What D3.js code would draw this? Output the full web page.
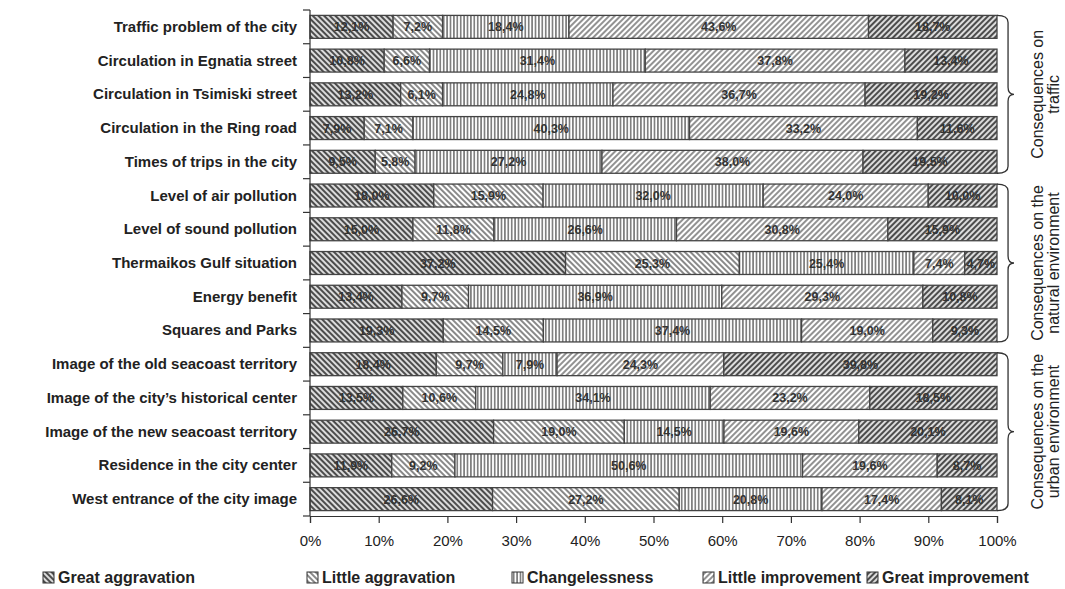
<!DOCTYPE html>
<html>
<head>
<meta charset="utf-8">
<script src="https://cdn.jsdelivr.net/npm/d3@7"></script>
<style>
  body { margin: 0; background: #fff; }
  svg { display: block; }
</style>
</head>
<body>
<svg id="chart" width="1065" height="589"></svg>
<script>
// categories, top to bottom
var categories = [
  'Traffic problem of the city',
  'Circulation in Egnatia street',
  'Circulation in Tsimiski street',
  'Circulation in the Ring road',
  'Times of trips in the city',
  'Level of air pollution',
  'Level of sound pollution',
  'Thermaikos Gulf situation',
  'Energy benefit',
  'Squares and Parks',
  'Image of the old seacoast territory',
  'Image of the city\u2019s historical center',
  'Image of the new seacoast territory',
  'Residence in the city center',
  'West entrance of the city image'
];

var seriesNames = ['Great aggravation', 'Little aggravation', 'Changelessness', 'Little improvement', 'Great improvement'];

var greatAggravation  = [12.1, 10.8, 13.2, 7.9, 9.5, 18.0, 15.0, 37.2, 13.4, 19.3, 18.4, 13.5, 26.7, 11.9, 26.6];
var littleAggravation = [7.2, 6.6, 6.1, 7.1, 5.8, 15.9, 11.8, 25.3, 9.7, 14.5, 9.7, 10.6, 19.0, 9.2, 27.2];
var changelessness    = [18.4, 31.4, 24.8, 40.3, 27.2, 32.0, 26.6, 25.4, 36.9, 37.4, 7.9, 34.1, 14.5, 50.6, 20.8];
var littleImprovement = [43.6, 37.8, 36.7, 33.2, 38.0, 24.0, 30.8, 7.4, 29.3, 19.0, 24.3, 23.2, 19.6, 19.6, 17.4];
var greatImprovement  = [18.7, 13.4, 19.2, 11.6, 19.5, 10.0, 15.9, 4.7, 10.8, 9.3, 39.8, 18.5, 20.1, 8.7, 8.1];

var groups = [
  { lines: ['Consequences on', 'traffic'], from: 0, to: 4 },
  { lines: ['Consequences on the', 'natural environment'], from: 5, to: 9 },
  { lines: ['Consequences on the', 'urban environment'], from: 10, to: 14 }
];

var xTicks = [0, 10, 20, 30, 40, 50, 60, 70, 80, 90, 100];

(function() {
  var plotLeft = 310, plotRight = 997, plotTop = 10, plotBottom = 516;

  var svg = d3.select('#chart');

  // hatch patterns, one per answer
  var defs = svg.append('defs');
  var patternSpecs = [
    { id: 'p0', angle: -45, size: 4, bg: '#dcdcdc', line: '#3c3c3c', w: 1.8 },
    { id: 'p1', angle: -45, size: 4, bg: '#ffffff', line: '#4a4a4a', w: 1.3 },
    { id: 'p2', angle: 0, size: 3.4, bg: '#ffffff', line: '#3a3a3a', w: 1.1 },
    { id: 'p3', angle: 45, size: 4, bg: '#ffffff', line: '#4a4a4a', w: 1.2 },
    { id: 'p4', angle: 45, size: 4, bg: '#dcdcdc', line: '#3c3c3c', w: 1.8 }
  ];
  patternSpecs.forEach(function(p) {
    var pat = defs.append('pattern')
      .attr('id', p.id)
      .attr('patternUnits', 'userSpaceOnUse')
      .attr('width', p.size)
      .attr('height', p.size)
      .attr('patternTransform', 'rotate(' + p.angle + ')');
    pat.append('rect').attr('width', p.size).attr('height', p.size).attr('fill', p.bg);
    pat.append('line')
      .attr('x1', p.size / 2).attr('x2', p.size / 2)
      .attr('y1', 0).attr('y2', p.size)
      .attr('stroke', p.line).attr('stroke-width', p.w);
  });

  var x = d3.scaleLinear().domain([0, 100]).range([plotLeft, plotRight]);
  var y = d3.scaleBand().domain(categories).range([plotTop, plotBottom]).paddingInner(0.32).paddingOuter(0.16);

  var table = categories.map(function(c, i) {
    var vals = [greatAggravation[i], littleAggravation[i], changelessness[i], littleImprovement[i], greatImprovement[i]];
    var total = d3.sum(vals);
    var acc = 0;
    return vals.map(function(v, k) {
      var seg = { cat: c, key: k, value: v, x0: acc / total * 100, x1: (acc + v) / total * 100 };
      acc += v;
      return seg;
    });
  });

  var rows = svg.append('g').selectAll('g.row')
    .data(table)
    .enter().append('g')
    .attr('class', 'row');

  rows.selectAll('rect')
    .data(function(d) { return d; })
    .enter().append('rect')
    .attr('x', function(d) { return x(d.x0); })
    .attr('y', function(d) { return y(d.cat); })
    .attr('width', function(d) { return x(d.x1) - x(d.x0); })
    .attr('height', y.bandwidth())
    .attr('fill', function(d) { return 'url(#p' + d.key + ')'; })
    .attr('stroke', '#444')
    .attr('stroke-width', 1.3);

  // segment labels
  rows.selectAll('text')
    .data(function(d) { return d; })
    .enter().append('text')
    .attr('x', function(d) { return (x(d.x0) + x(d.x1)) / 2; })
    .attr('y', function(d) { return y(d.cat) + y.bandwidth() / 2 + 4.5; })
    .attr('text-anchor', 'middle')
    .style('font', 'bold 12.5px "Liberation Sans", Arial, sans-serif')
    .attr('fill', '#333')
    .text(function(d) { return d.value.toFixed(1).replace('.', ',') + '%'; });

  // left axis
  var yAxis = svg.append('g').attr('stroke', '#333').attr('stroke-width', 1.2);
  yAxis.append('line').attr('x1', plotLeft).attr('x2', plotLeft).attr('y1', plotTop).attr('y2', plotBottom);
  yAxis.selectAll('line.tick')
    .data(d3.range(categories.length + 1))
    .enter().append('line')
    .attr('class', 'tick')
    .attr('x1', plotLeft - 7).attr('x2', plotLeft)
    .attr('y1', function(i) { return plotTop + i * y.step(); })
    .attr('y2', function(i) { return plotTop + i * y.step(); });

  svg.append('g').selectAll('text')
    .data(categories)
    .enter().append('text')
    .attr('x', 297)
    .attr('y', function(d) { return y(d) + y.bandwidth() / 2 + 5; })
    .attr('text-anchor', 'end')
    .style('font', 'bold 15px "Liberation Sans", Arial, sans-serif')
    .attr('fill', '#222')
    .text(function(d) { return d; });

  // bottom axis
  var xAxis = svg.append('g').attr('transform', 'translate(0,' + plotBottom + ')')
    .call(d3.axisBottom(x).tickValues(xTicks).tickSize(7).tickFormat(function(d) { return d + '%'; }));
  xAxis.select('.domain').attr('stroke', '#333').attr('stroke-width', 1.2);
  xAxis.selectAll('.tick line').attr('stroke', '#333').attr('stroke-width', 1.2);
  xAxis.selectAll('.tick text')
    .attr('dy', '0')
    .attr('y', 30)
    .style('font', '15px "Liberation Sans Narrow", "Liberation Sans", Arial, sans-serif')
    .attr('fill', '#222');

  // braces and group labels
  function bracePath(y0, y1, xa, w) {
    var ym = (y0 + y1) / 2;
    var r = 7;
    var xm = xa + w * 0.65;
    return 'M' + xa + ',' + y0 +
      ' Q' + xm + ',' + y0 + ' ' + xm + ',' + (y0 + r) +
      ' L' + xm + ',' + (ym - r) +
      ' Q' + xm + ',' + ym + ' ' + (xa + w) + ',' + ym +
      ' Q' + xm + ',' + ym + ' ' + xm + ',' + (ym + r) +
      ' L' + xm + ',' + (y1 - r) +
      ' Q' + xm + ',' + y1 + ' ' + xa + ',' + y1;
  }

  var g = svg.append('g');
  groups.forEach(function(gr) {
    var y0 = y(categories[gr.from]);
    var y1 = y(categories[gr.to]) + y.bandwidth();
    g.append('path')
      .attr('d', bracePath(y0, y1, plotRight, 17))
      .attr('fill', 'none')
      .attr('stroke', '#333')
      .attr('stroke-width', 1.3);
    var t = g.append('text')
      .attr('transform', 'translate(1043,' + ((y0 + y1) / 2) + ') rotate(-90)')
      .attr('text-anchor', 'middle')
      .style('font', '16px "Liberation Sans", Arial, sans-serif')
      .attr('fill', '#222');
    gr.lines.forEach(function(l, i) {
      t.append('tspan').attr('x', 0).attr('y', i * 16).text(l);
    });
  });

  // legend
  var legendX = [43, 307, 512, 703, 867];
  var legend = svg.append('g').selectAll('g')
    .data(seriesNames)
    .enter().append('g')
    .attr('transform', function(d, i) { return 'translate(' + legendX[i] + ',572)'; });
  legend.append('rect')
    .attr('width', 11).attr('height', 11)
    .attr('fill', function(d, i) { return 'url(#p' + i + ')'; })
    .attr('stroke', '#333');
  legend.append('text')
    .attr('x', 15).attr('y', 11)
    .style('font', 'bold 16px "Liberation Sans Narrow", "Liberation Sans", Arial, sans-serif')
    .attr('fill', '#222')
    .text(function(d) { return d; });
})();
</script>
</body>
</html>
